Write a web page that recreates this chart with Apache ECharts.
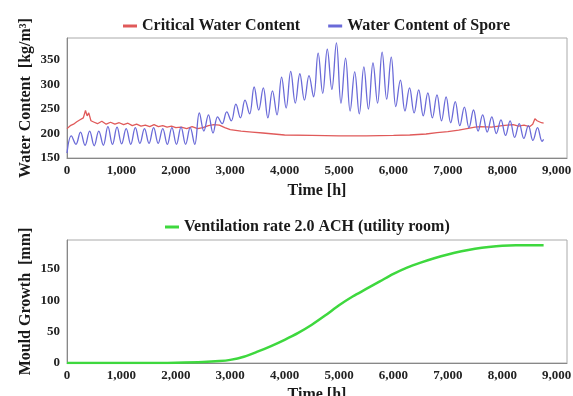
<!DOCTYPE html>
<html>
<head>
<meta charset="utf-8">
<script src="https://cdn.jsdelivr.net/npm/echarts@6/dist/echarts.min.js"></script>
<style>
  html, body { margin: 0; padding: 0; background: #fff; }
  #chart { width: 573px; height: 396px; }
</style>
</head>
<body>
<div id="chart"></div>
<script>
// critical water content [kg/m3] vs time [h]
const criticalHours = [0, 60, 120, 180, 240, 300, 340, 370, 400, 440, 500, 560, 640, 720, 800, 880, 960, 1040, 1120, 1200, 1280, 1360, 1440, 1520, 1600, 1680, 1760, 1840, 1920, 2000, 2100, 2200, 2300, 2400, 2500, 2600, 2700, 2800, 2900, 3000, 3200, 3400, 3600, 3800, 4000, 4500, 5000, 5500, 6000, 6300, 6600, 6800, 7000, 7200, 7400, 7500, 7600, 7800, 8000, 8200, 8300, 8400, 8500, 8560, 8600, 8640, 8680, 8720, 8760];
const criticalValues = [210, 216, 219, 224, 228, 232, 247, 236, 242, 226, 223, 220, 225, 219, 223, 219, 222, 218, 221, 216, 219, 215, 217, 214, 218, 214, 216, 213, 215, 212, 213, 210, 214, 210, 212, 216, 218, 217, 212, 208, 205, 203, 201, 199, 197, 196, 195, 195, 196, 197, 199, 202, 204, 207, 211, 213, 214, 213, 216, 218, 215, 217, 214, 219, 230, 226, 224, 222, 221];

// water content of spore: start value, then alternating weekly peak / trough
const sporeStart = 160;
const sporeFirstPeak = 80;
const sporeHalfWeek = 84;
const sporeValues = [
  195, 178, 203, 176, 205, 175, 205, 176, 214, 178, 213, 179, 210, 178, 212, 180,
  210, 180, 212, 180, 210, 178, 212, 178, 213, 178, 212, 178, 242, 205, 238, 201,
  234, 220, 244, 226, 260, 232, 268, 240, 295, 248, 293, 232, 287, 238, 315, 252,
  327, 262, 322, 268, 318, 275, 364, 282, 372, 290, 385, 262, 354, 246, 326, 240,
  336, 250, 344, 262, 366, 270, 356, 255, 309, 246, 293, 242, 289, 236, 283, 232,
  279, 226, 275, 222, 265, 216, 254, 212, 248, 205, 238, 203, 234, 200, 228, 196,
  226, 192, 220, 190, 216, 186, 212, 184
];
const sporeEnd = 188;

// mould growth [mm] vs time [h]
const mouldHours = [0, 500, 1000, 1500, 2000, 2500, 2800, 3000, 3250, 3500, 3750, 4000, 4250, 4500, 4750, 5000, 5250, 5500, 5750, 6000, 6250, 6500, 6750, 7000, 7250, 7500, 7750, 8000, 8250, 8500, 8760];
const mouldValues = [0, 0, 0, 0, 0.5, 1.5, 3, 5, 10, 18, 27, 37, 48, 61, 76, 92, 106, 118, 130, 142, 152, 160, 167, 173, 178, 182, 185, 187, 187.5, 187.5, 187.5];

const criticalData = criticalHours.map((h, i) => [h, criticalValues[i]]);
const sporeData = [[0, sporeStart]];
sporeValues.forEach((v, i) => sporeData.push([sporeFirstPeak + i * sporeHalfWeek, v]));
sporeData.push([8760, sporeEnd]);
const mouldData = mouldHours.map((h, i) => [h, mouldValues[i]]);

const font = 'Liberation Serif';
const labelStyle = { fontFamily: font, fontWeight: 'bold', fontSize: 13, color: '#222' };
const nameStyle = { fontFamily: font, fontWeight: 'bold', fontSize: 16, color: '#1a1a1a' };

const xAxisBase = {
  type: 'value',
  min: 0,
  max: 9190,
  interval: 1000,
  name: 'Time [h]',
  nameLocation: 'middle',
  nameTextStyle: nameStyle,
  axisLine: { lineStyle: { color: '#888' } },
  axisTick: { show: false },
  splitLine: { show: false },
  axisLabel: {
    ...labelStyle,
    margin: 6,
    showMaxLabel: false,
    formatter: v => v.toLocaleString('en-US'),
  },
};

const chart = echarts.init(document.getElementById('chart'));

chart.setOption({
  animation: false,
  legend: [
    {
      data: ['Critical Water Content', 'Water Content of Spore'],
      top: 13,
      left: 118,
      icon: 'rect',
      itemWidth: 14,
      itemHeight: 3,
      itemGap: 28,
      textStyle: nameStyle,
    },
    {
      data: ['Ventilation rate 2.0 ACH (utility room)'],
      top: 214,
      left: 160,
      icon: 'rect',
      itemWidth: 14,
      itemHeight: 3,
      textStyle: nameStyle,
    },
  ],
  grid: [
    { left: 67, top: 38, width: 500, height: 120, show: true, borderColor: '#aaa', borderWidth: 1, outerBoundsMode: 'none' },
    { left: 67, top: 240, width: 500, height: 123, show: true, borderColor: '#aaa', borderWidth: 1, outerBoundsMode: 'none' },
  ],
  xAxis: [
    { ...xAxisBase, gridIndex: 0, nameGap: 25 },
    { ...xAxisBase, gridIndex: 1, nameGap: 24 },
  ],
  yAxis: [
    {
      type: 'value', gridIndex: 0, min: 150, max: 395, interval: 50,
      name: 'Water Content  [kg/m³]', nameLocation: 'middle', nameGap: 33,
      nameMoveOverlap: false,
      nameTextStyle: nameStyle,
      axisLine: { show: true, lineStyle: { color: '#888' } },
      axisTick: { show: false },
      splitLine: { show: false },
      axisLabel: { ...labelStyle, margin: 7, showMaxLabel: false },
    },
    {
      type: 'value', gridIndex: 1, min: 0, max: 196, interval: 50,
      name: 'Mould Growth  [mm]', nameLocation: 'middle', nameGap: 33,
      nameMoveOverlap: false,
      nameTextStyle: nameStyle,
      axisLine: { show: true, lineStyle: { color: '#888' } },
      axisTick: { show: false },
      splitLine: { show: false },
      axisLabel: { ...labelStyle, margin: 7, showMaxLabel: false },
    },
  ],
  series: [
    {
      name: 'Critical Water Content',
      type: 'line',
      xAxisIndex: 0, yAxisIndex: 0,
      data: criticalData,
      showSymbol: false,
      lineStyle: { color: '#e05a5a', width: 1.3 },
      itemStyle: { color: '#e05a5a' },
    },
    {
      name: 'Water Content of Spore',
      type: 'line',
      xAxisIndex: 0, yAxisIndex: 0,
      data: sporeData,
      smooth: 0.4,
      showSymbol: false,
      lineStyle: { color: '#6a6ad8', width: 1.3 },
      itemStyle: { color: '#6a6ad8' },
    },
    {
      name: 'Ventilation rate 2.0 ACH (utility room)',
      type: 'line',
      xAxisIndex: 1, yAxisIndex: 1,
      data: mouldData,
      smooth: 0.3,
      showSymbol: false,
      lineStyle: { color: '#3ed83e', width: 2.5 },
      itemStyle: { color: '#3ed83e' },
    },
  ],
});
</script>
</body>
</html>
